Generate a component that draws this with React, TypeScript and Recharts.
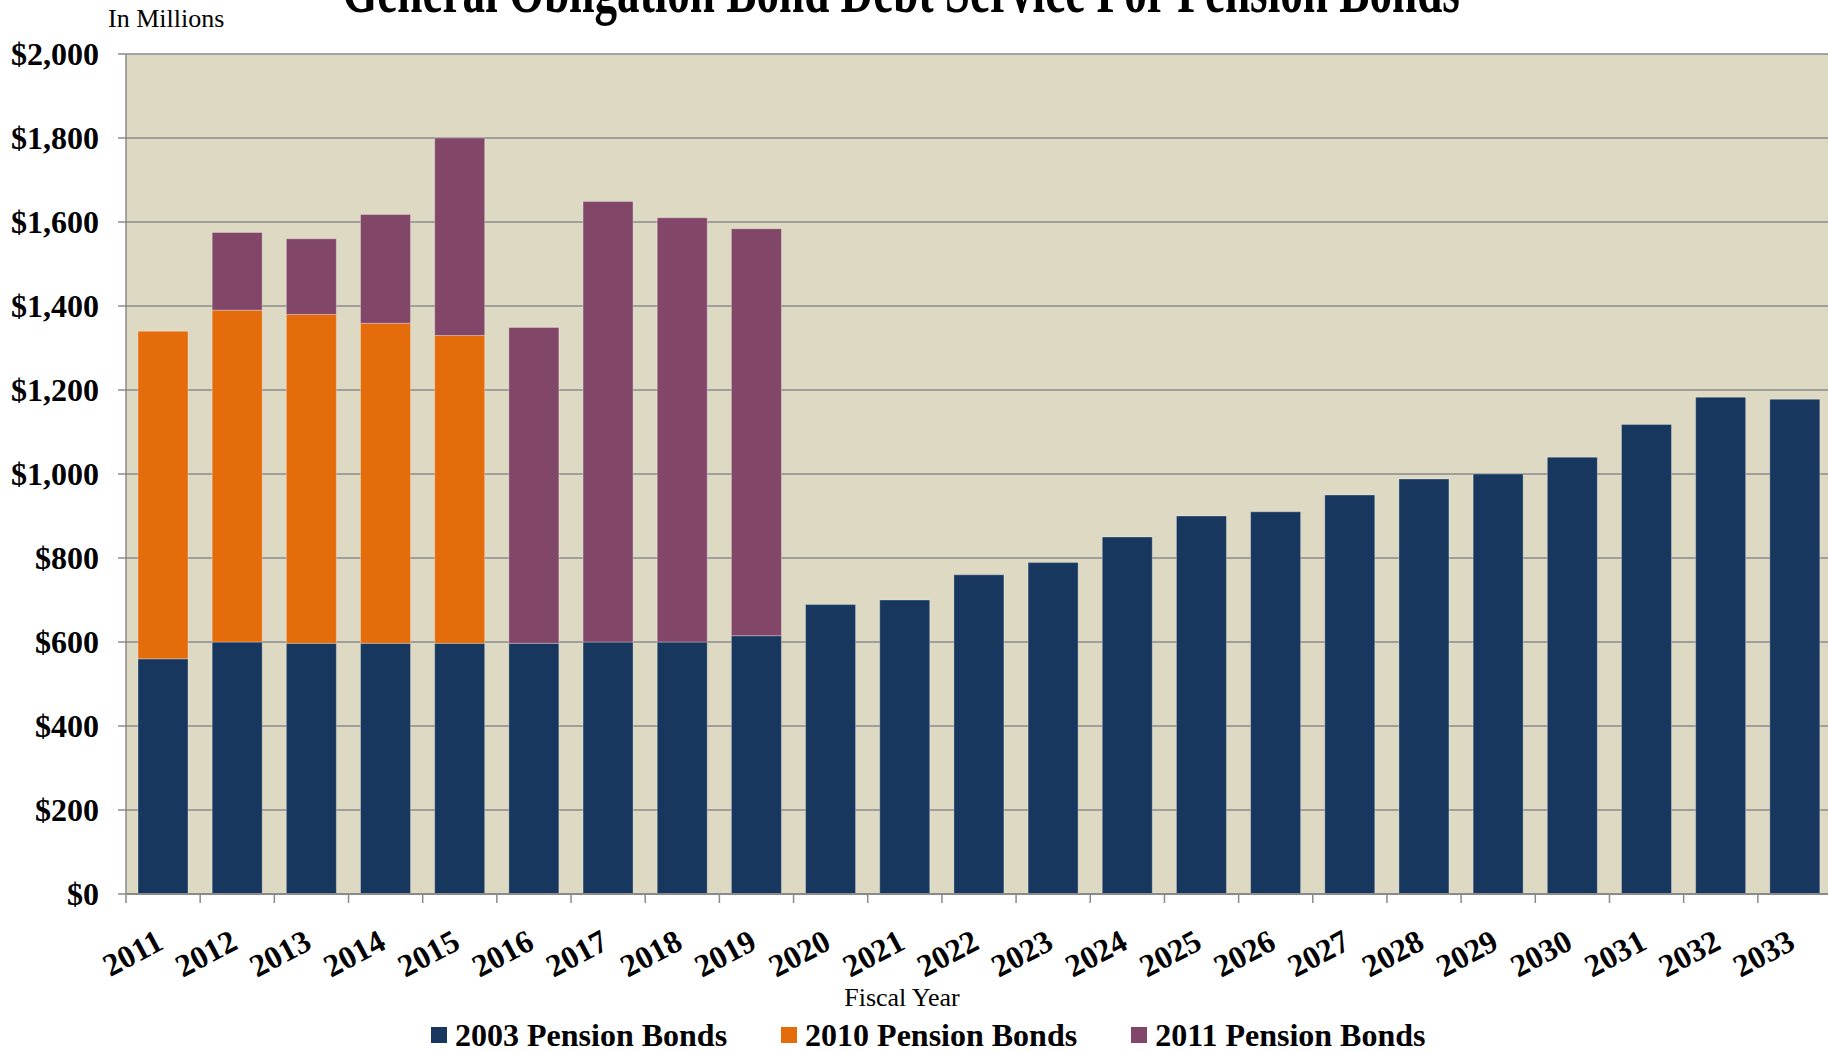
import { BarChart, Bar, XAxis, YAxis, CartesianGrid, Legend, Label } from 'recharts';

const years = [
  '2011', '2012', '2013', '2014', '2015', '2016', '2017', '2018', '2019', '2020', '2021', '2022',
  '2023', '2024', '2025', '2026', '2027', '2028', '2029', '2030', '2031', '2032', '2033',
];
// millions of dollars
const bonds2003 = [560, 600, 597, 597, 597, 597, 600, 600, 615, 689, 700, 760, 789, 850, 900, 910, 950, 988, 1000, 1040, 1118, 1183, 1178];
const bonds2010 = [780, 790, 783, 762, 733, null, null, null, null, null, null, null, null, null, null, null, null, null, null, null, null, null, null];
const bonds2011 = [null, 185, 180, 259, 470, 752, 1049, 1010, 969, null, null, null, null, null, null, null, null, null, null, null, null, null, null];
const yTicks = [0, 200, 400, 600, 800, 1000, 1200, 1400, 1600, 1800, 2000];

const seriesNames = ['2003 Pension Bonds', '2010 Pension Bonds', '2011 Pension Bonds'];
const seriesColors = ['#17375E', '#E46C0A', '#824669'];

const chartData = years.map((year, i) => ({
  year,
  b2003: bonds2003[i],
  b2010: bonds2010[i],
  b2011: bonds2011[i],
}));

const CHART_W = 1832;
const CHART_H = 1052;
const Y_AXIS_W = 126;
const BAND = (CHART_W - Y_AXIS_W) / years.length;
const FONT = "'Liberation Serif', 'Times New Roman', serif";
const AXIS_GRAY = '#8a8a8a';

const YearTick = ({ x, y, payload }: any) => (
  <g>
    <line x1={x - BAND / 2} y1={y} x2={x - BAND / 2} y2={y + 9} stroke={AXIS_GRAY} strokeWidth={1.5} />
    <g transform={`translate(${x + 2},${y + 54})`}>
      <text
        x={0}
        y={0}
        textAnchor="end"
        transform="rotate(-28)"
        style={{ fontFamily: FONT }}
        fontWeight="bold"
        fontSize={32}
        fill="#000"
      >
        {payload.value}
      </text>
    </g>
  </g>
);

const renderLegend = () => (
  <div style={{ height: 34, display: 'flex', alignItems: 'center', paddingLeft: 431, fontFamily: FONT }}>
    {seriesNames.map((name, i) => (
      <div key={name} style={{ display: 'flex', alignItems: 'center', marginRight: 54 }}>
        <span style={{ width: 16, height: 16, background: seriesColors[i], marginRight: 8 }} />
        <span style={{ fontSize: 32, fontWeight: 'bold', lineHeight: '34px', color: '#000', whiteSpace: 'nowrap' }}>
          {name}
        </span>
      </div>
    ))}
  </div>
);

export default function App() {
  return (
    <div style={{ position: 'absolute', left: 0, top: 0, width: 1828, height: 1052, overflow: 'hidden', background: '#fff', fontFamily: FONT }}>
      <BarChart
        width={CHART_W}
        height={CHART_H}
        data={chartData}
        margin={{ top: 54, right: 0, left: 0, bottom: 0 }}
      >
        <CartesianGrid vertical={false} fill="#DDD9C3" stroke={AXIS_GRAY} strokeWidth={1.5} />
        <XAxis
          dataKey="year"
          height={124}
          interval={0}
          tickSize={0}
          tickMargin={0}
          tick={<YearTick />}
          axisLine={{ stroke: AXIS_GRAY, strokeWidth: 2 }}
        >
          <Label
            content={({ viewBox }: any) => (
              <text x={viewBox.x + 776} y={viewBox.y + 112} textAnchor="middle" style={{ fontFamily: FONT }} fontSize={26} fill="#000">
                Fiscal Year
              </text>
            )}
          />
        </XAxis>
        <YAxis
          width={Y_AXIS_W}
          domain={[0, 2000]}
          ticks={yTicks}
          interval={0}
          tickSize={8}
          tickMargin={19}
          tickLine={{ stroke: AXIS_GRAY, strokeWidth: 1.5 }}
          axisLine={{ stroke: AXIS_GRAY, strokeWidth: 1.5 }}
          tick={{ fill: '#000', fontSize: 32, fontWeight: 'bold', fontFamily: FONT }}
          tickFormatter={(v) => `$${v.toLocaleString('en-US')}`}
        />
        <Legend verticalAlign="bottom" height={34} content={renderLegend} />
        <Bar dataKey="b2003" name={seriesNames[0]} stackId="a" fill={seriesColors[0]} barSize={50} stroke="rgba(255,255,255,0.3)" strokeWidth={1} isAnimationActive={false} />
        <Bar dataKey="b2010" name={seriesNames[1]} stackId="a" fill={seriesColors[1]} barSize={50} stroke="rgba(255,255,255,0.3)" strokeWidth={1} isAnimationActive={false} />
        <Bar dataKey="b2011" name={seriesNames[2]} stackId="a" fill={seriesColors[2]} barSize={50} stroke="rgba(255,255,255,0.3)" strokeWidth={1} isAnimationActive={false} />
      </BarChart>
      <svg width={1828} height={60} style={{ position: 'absolute', left: 0, top: 0, pointerEvents: 'none' }}>
        <g transform="translate(901,12) scale(0.685,1)">
          <text x={0} y={0} textAnchor="middle" style={{ fontFamily: FONT }} fontWeight="bold" fontSize={66} fill="#000">
            General Obligation Bond Debt Service For Pension Bonds
          </text>
        </g>
        <text x={108} y={26.7} style={{ fontFamily: FONT }} fontSize={26} fill="#000">
          In Millions
        </text>
      </svg>
    </div>
  );
}
